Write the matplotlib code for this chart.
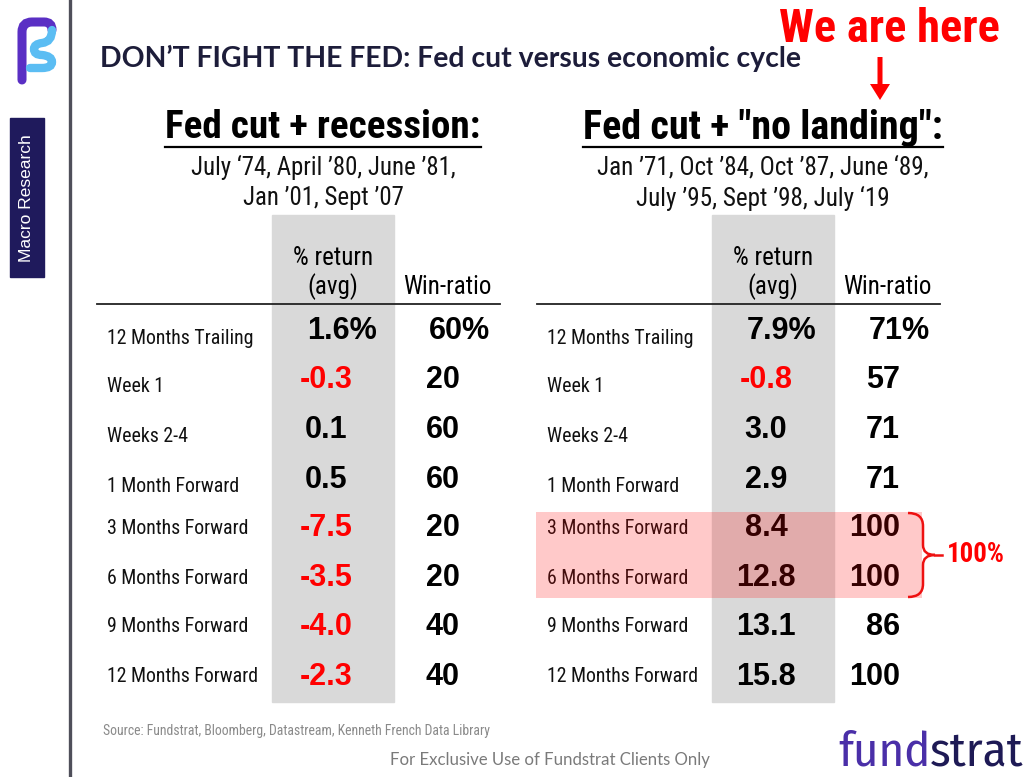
import matplotlib
matplotlib.use("Agg")
import matplotlib.pyplot as plt
from matplotlib.patches import Rectangle, FancyArrow, PathPatch
from matplotlib.path import Path

# data
row_labels = ['12 Months Trailing', 'Week 1', 'Weeks 2-4', '1 Month Forward',
              '3 Months Forward', '6 Months Forward', '9 Months Forward',
              '12 Months Forward']
recession_ret = [1.6, -0.3, 0.1, 0.5, -7.5, -3.5, -4.0, -2.3]
recession_win = [60, 20, 60, 60, 20, 20, 40, 40]
nolanding_ret = [7.9, -0.8, 3.0, 2.9, 8.4, 12.8, 13.1, 15.8]
nolanding_win = [71, 57, 71, 71, 100, 100, 86, 100]
highlight_rows = [4, 5]
highlight_label = '100%'

title = 'DON\u2019T FIGHT THE FED: Fed cut versus economic cycle'
left_title = 'Fed cut + recession:'
left_dates = ['July \u201874, April \u201980, June \u201981,', 'Jan \u201901, Sept \u201907']
right_title = 'Fed cut + "no landing":'
right_dates = ['Jan \u201971, Oct \u201984, Oct \u201987, June \u201889,',
               'July \u201995, Sept \u201998, July \u201819']
source = 'Source: Fundstrat, Bloomberg, Datastream, Kenneth French Data Library'

COND = ['Roboto Condensed', 'DejaVu Sans']
ARIAL = ['Liberation Sans', 'DejaVu Sans']

fig = plt.figure(figsize=(10.24, 7.77), dpi=100)
ax = fig.add_axes([0, 0, 1, 1])
ax.set_xlim(0, 1024)
ax.set_ylim(777, 0)
ax.axis('off')
renderer = fig.canvas.get_renderer()


def fit(t, width):
    # shrink/grow a text so it spans the given width in pixels
    for _ in range(3):
        w = t.get_window_extent(renderer).width
        t.set_fontsize(t.get_fontsize() * width / w)
    return t


def extent_x(t):
    bb = t.get_window_extent(renderer)
    return bb.x0, bb.x1


# left side bar
ax.plot([70, 70], [0, 777], color='#4f4f5a', lw=2.4)
ax.add_patch(Rectangle((10, 118), 34, 159, color='#1f1a5c'))
ax.text(27, 198, 'Macro Research', rotation=90, color='white', fontsize=12.5,
        family=ARIAL, ha='center', va='center')

# logo F
purple = Path([(22, 80), (22, 32), (22, 22), (32, 22), (44, 22), (52, 22), (52, 30)],
              [Path.MOVETO, Path.LINETO, Path.CURVE3, Path.CURVE3, Path.LINETO,
               Path.CURVE3, Path.CURVE3])
ax.add_patch(PathPatch(purple, fill=False, lw=6.5, color='#5a2fc4', capstyle='round'))
blue = Path([(52, 30), (52, 42), (42, 43), (34, 44), (34, 49), (34, 55), (42, 55),
             (52, 56), (52, 62), (52, 68), (42, 68), (30, 68)],
            [Path.MOVETO, Path.CURVE3, Path.CURVE3, Path.CURVE3, Path.CURVE3,
             Path.CURVE3, Path.CURVE3, Path.CURVE3, Path.CURVE3, Path.CURVE3,
             Path.CURVE3, Path.LINETO])
ax.add_patch(PathPatch(blue, fill=False, lw=6.0, color='#5bbdf3', capstyle='round'))

# title
t = ax.text(100, 58, title, fontsize=20, fontweight='bold',
            family=['Lato', 'DejaVu Sans'], color='#1d1d3a', va='center', ha='left')
fit(t, 700)

# we are here
t = ax.text(889, 29, 'We are here', fontsize=30, fontweight='bold', family=COND,
            color='#ff0000', ha='center', va='center')
fit(t, 221)
ax.add_patch(FancyArrow(880, 57, 0, 43, width=5, head_width=20, head_length=16,
                        length_includes_head=True, color='#ff0000', lw=0))

row_y = [331, 380, 430, 480, 528, 578, 627, 677]


def panel(x0, cx, head, head_w, dates, date_w, rets, wins):
    ax.add_patch(Rectangle((cx - 61, 215), 122, 487, color='#d9d9d9', zorder=0))
    hc = x0 + 226
    h = ax.text(hc, 128, head, fontsize=26, fontweight='bold', family=COND,
                ha='center', va='center', color='black')
    fit(h, head_w)
    a, b = extent_x(h)
    ax.plot([a, b], [147, 147], color='black', lw=1.6)
    d0 = ax.text(hc, 167, dates[0], fontsize=17, family=COND, ha='center',
                 va='center', color='#111111')
    fit(d0, date_w)
    ax.text(hc, 198, dates[1], fontsize=d0.get_fontsize(), family=COND,
            ha='center', va='center', color='#111111')
    ax.text(cx, 258, '% return', fontsize=18, family=COND, ha='center', va='center')
    ax.text(cx, 287, '(avg)', fontsize=18, family=COND, ha='center', va='center')
    ax.text(cx + 114, 287, 'Win-ratio', fontsize=18, family=COND, ha='center',
            va='center')
    ax.plot([x0, x0 + 403], [304, 304], color='#222222', lw=1.3)
    for i, lab in enumerate(row_labels):
        y = row_y[i]
        ax.text(x0 + 10, y + (7 if i < 4 else 0), lab, fontsize=14.3, family=COND,
                ha='left', va='center', color='#111111')
        r = rets[i]
        w = wins[i]
        col = '#ff0000' if r < 0 else 'black'
        if i == 0:
            ax.text(cx + 9, y, '%.1f%%' % r, fontsize=22, fontweight='bold',
                    family=ARIAL, ha='center', va='center', color=col)
            ax.text(cx + 126, y, '%d%%' % w, fontsize=22, fontweight='bold',
                    family=ARIAL, ha='center', va='center', color='black')
        else:
            ax.text(cx - 7, y, '%.1f' % r, fontsize=22, fontweight='bold',
                    family=ARIAL, ha='center', va='center', color=col)
            ax.text(cx + 127, y, '%d' % w, fontsize=22, fontweight='bold',
                    family=ARIAL, ha='right', va='center', color='black')


panel(97, 333, left_title, 315, left_dates, 264, recession_ret, recession_win)
panel(537, 773, right_title, 360, right_dates, 332, nolanding_ret, nolanding_win)

# highlight block over the "no landing" rows
top = row_y[highlight_rows[0]] - 16
bot = row_y[highlight_rows[-1]] + 20
ax.add_patch(Rectangle((536, top), 386, bot - top, color='#ff0000', alpha=0.21,
                       lw=0, zorder=5))
# curly brace
bx = 923
mid = (top + bot) / 2
brace = Path([(bx - 15, top + 1), (bx, top + 1), (bx, top + 14),
              (bx, mid - 10), (bx, mid), (bx + 12, mid),
              (bx + 12, mid), (bx, mid), (bx, mid + 10),
              (bx, bot - 14), (bx, bot - 1), (bx - 15, bot - 1)],
             [Path.MOVETO, Path.CURVE3, Path.CURVE3,
              Path.LINETO, Path.CURVE3, Path.CURVE3,
              Path.MOVETO, Path.CURVE3, Path.CURVE3,
              Path.LINETO, Path.CURVE3, Path.CURVE3])
ax.add_patch(PathPatch(brace, fill=False, color='#ee1111', lw=1.8, zorder=6))
ax.plot([bx + 12, bx + 19], [mid, mid], color='#ee1111', lw=1.8, zorder=6)
t = ax.text(947, mid, highlight_label, fontsize=19, fontweight='bold', family=COND,
            color='#ff0000', ha='left', va='center')
fit(t, 58)

# footer
t = ax.text(103, 731, source, fontsize=9, family=COND, color='#8a8a8a', ha='left',
            va='center')
fit(t, 387)
t = ax.text(550, 760, 'For Exclusive Use of Fundstrat Clients Only', fontsize=12,
            family=['Lato', 'DejaVu Sans'], color='#7a7a7a', ha='center', va='center')
fit(t, 320)
t1 = ax.text(838, 766, 'fund', fontsize=32, family=['Fira Sans Condensed', 'DejaVu Sans'],
             color='#4a2fa8', ha='left', va='baseline')
fit(t1, 92)
x_end = ax.transData.inverted().transform((t1.get_window_extent(renderer).x1, 0))[0]
ax.text(x_end, 766, 'strat', fontsize=t1.get_fontsize(),
        family=['Fira Sans Condensed', 'DejaVu Sans'], color='#1e1a55', ha='left',
        va='baseline')

fig.savefig('out.png', dpi=100)
